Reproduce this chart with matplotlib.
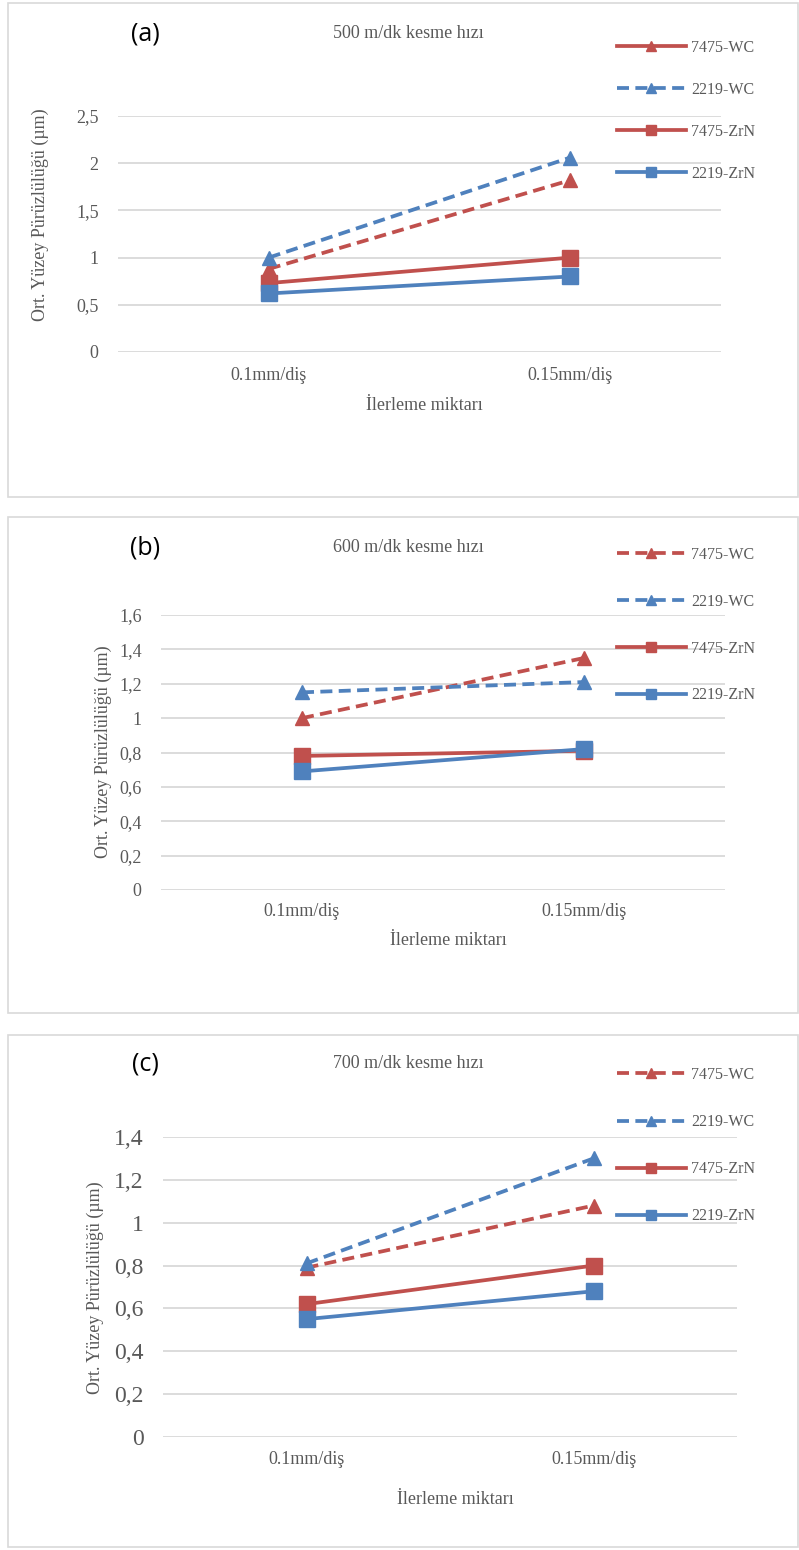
import matplotlib
matplotlib.use('Agg')
import matplotlib.pyplot as plt
from matplotlib.lines import Line2D
from matplotlib.patches import Rectangle

W, H = 799, 1550

categories = ['0.1mm/diş', '0.15mm/diş']
series_names = ['7475-WC', '2219-WC', '7475-ZrN', '2219-ZrN']

# 500 m/dk
a_7475_wc = [0.88, 1.82]
a_2219_wc = [1.00, 2.06]
a_7475_zrn = [0.73, 1.00]
a_2219_zrn = [0.62, 0.80]

# 600 m/dk
b_7475_wc = [1.00, 1.35]
b_2219_wc = [1.15, 1.21]
b_7475_zrn = [0.78, 0.81]
b_2219_zrn = [0.69, 0.82]

# 700 m/dk
c_7475_wc = [0.79, 1.08]
c_2219_wc = [0.81, 1.30]
c_7475_zrn = [0.62, 0.80]
c_2219_zrn = [0.55, 0.68]

a_yticks = [0, 0.5, 1, 1.5, 2, 2.5]
a_ylabels = ['0', '0,5', '1', '1,5', '2', '2,5']
b_yticks = [0, 0.2, 0.4, 0.6, 0.8, 1, 1.2, 1.4, 1.6]
b_ylabels = ['0', '0,2', '0,4', '0,6', '0,8', '1', '1,2', '1,4', '1,6']
c_yticks = [0, 0.2, 0.4, 0.6, 0.8, 1, 1.2, 1.4]
c_ylabels = ['0', '0,2', '0,4', '0,6', '0,8', '1', '1,2', '1,4']

RED = '#C0504D'
BLUE = '#4F81BD'
GRID = '#D9D9D9'
TXT = '#595959'
SERIF = 'Liberation Serif'

plt.rcParams['font.family'] = SERIF

fig = plt.figure(figsize=(W / 100, H / 100), dpi=100)


def px_rect(l, t, r, b):
    return [l / W, 1 - b / H, (r - l) / W, (b - t) / H]


def fx(x):
    return x / W


def fy(y):
    return 1 - y / H


def panel(box, axbox, data, yticks, ylabels, ymax, tick_fs, title, tag,
          title_y, tick_y, xlabel_y, ylabel_x, ylabel_y, leg_top, leg_gap, solid_first):
    # outer frame of the chart
    l, t, r, b = box
    fig.patches.append(Rectangle((fx(l), fy(b)), (r - l) / W, (b - t) / H,
                                 transform=fig.transFigure, fill=False,
                                 edgecolor=GRID, linewidth=1.2))
    ax = fig.add_axes(px_rect(*axbox))
    x = list(range(len(categories)))
    styles = [(RED, '--', '^'), (BLUE, '--', '^'), (RED, '-', 's'), (BLUE, '-', 's')]
    for ys, (c, ls, m) in zip(data, styles):
        ax.plot(x, ys, color=c, linestyle=ls, linewidth=2.7, marker=m,
                markersize=11 if m == 's' else 10,
                dashes=(3.2, 1.7) if ls == '--' else (None, None),
                clip_on=False, zorder=3)
    ax.set_xlim(-0.5, 1.5)
    ax.set_ylim(0, ymax)
    ax.set_yticks(yticks)
    ax.set_yticklabels(ylabels, fontsize=tick_fs, color=TXT)
    ax.set_xticks([])
    ax.grid(axis='y', color=GRID, linewidth=1.3)
    ax.set_axisbelow(True)
    for s in ax.spines.values():
        s.set_visible(False)
    ax.tick_params(axis='y', length=0, pad=14)

    axl, axt, axr, axb = axbox
    for xi, lab in zip(x, categories):
        xp = axl + (xi + 0.5) / 2 * (axr - axl)
        fig.text(fx(xp), fy(tick_y), lab, ha='center', va='center', fontsize=13, color=TXT)
    fig.text(fx((axl + axr) / 2 + 5), fy(xlabel_y), 'İlerleme miktarı', ha='center',
             va='center', fontsize=13, color=TXT)
    fig.text(fx(ylabel_x), fy(ylabel_y), 'Ort. Yüzey Pürüzlülüğü (µm)',
             rotation=90, ha='center', va='center', fontsize=13, color=TXT)
    fig.text(fx(408), fy(title_y), title, ha='center', va='center', fontsize=13, color=TXT)
    fig.text(fx(145), fy(title_y), tag, ha='center', va='center', fontsize=18,
             family='Open Sans', color='black')

    # legend to the right of the plot area
    handles = []
    for i, (c, ls, m) in enumerate(styles):
        lls = '-' if (solid_first and i == 0) else ls
        handles.append(Line2D([], [], color=c, linestyle=lls, linewidth=2.7, marker=m,
                              markersize=7.5,
                              dashes=(3.2, 1.7) if lls == '--' else (None, None)))
    fig.legend(handles, series_names, loc='upper left',
               bbox_to_anchor=(fx(617), fy(leg_top)), frameon=False, fontsize=11.5,
               handlelength=4.3, handletextpad=0.35, labelspacing=leg_gap,
               borderpad=0, borderaxespad=0, labelcolor=TXT)
    return ax


panel((8, 3, 798, 497), (118, 116, 721, 352),
      [a_7475_wc, a_2219_wc, a_7475_zrn, a_2219_zrn], a_yticks, a_ylabels, 2.5, 13,
      '500 m/dk kesme hızı', '(a)', 34, 375, 406, 40, 215, 40, 1.62, True)

panel((8, 517, 798, 1013), (161, 615, 725, 890),
      [b_7475_wc, b_2219_wc, b_7475_zrn, b_2219_zrn], b_yticks, b_ylabels, 1.6, 13,
      '600 m/dk kesme hızı', '(b)', 548, 912, 941, 103, 752, 547, 1.93, False)

panel((8, 1035, 798, 1547), (163, 1137, 737, 1437),
      [c_7475_wc, c_2219_wc, c_7475_zrn, c_2219_zrn], c_yticks, c_ylabels, 1.4, 17,
      '700 m/dk kesme hızı', '(c)', 1064, 1460, 1500, 95, 1288, 1067, 1.95, False)

fig.savefig('out.png', dpi=100)
